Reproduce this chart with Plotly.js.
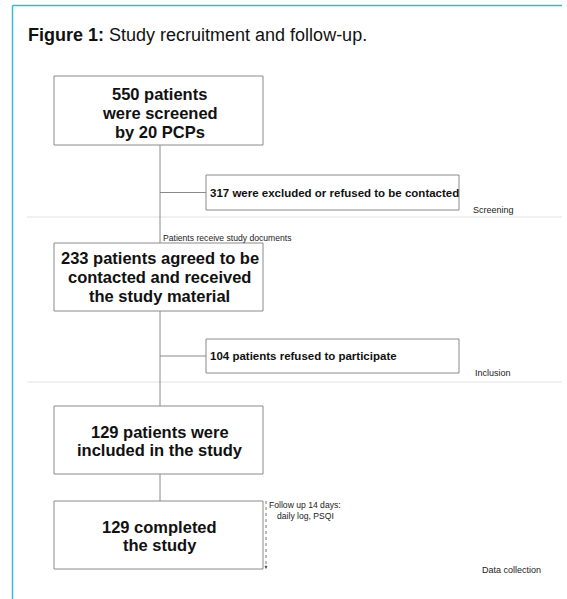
<!DOCTYPE html>
<html>
<head>
<meta charset="utf-8">
<script src="https://cdn.plot.ly/plotly-3.0.1.min.js"></script>
<style>html,body{margin:0;padding:0;background:#fff;}#chart{width:567px;height:599px;}</style>
</head>
<body>
<div id="chart"></div>
<script>
// ---- content (flowchart values and labels) ----
const titleBold = "Figure 1:";
const titleRest = " Study recruitment and follow-up.";
const mainCounts = [550, 233, 129, 129];
const mainLines = [
  ["550 patients", "were screened", "by 20 PCPs"],
  ["233 patients agreed to be", "contacted and received", "the study material"],
  ["129 patients were", "included in the study"],
  ["129 completed", "the study"]
];
const sideCounts = [317, 104];
const sideLabels = ["317 were excluded or refused to be contacted", "104 patients refused to participate"];
const stageLabels = ["Screening", "Inclusion", "Data collection"];
const stepNote = "Patients receive study documents";
const followNote = ["Follow up 14 days:", "daily log, PSQI"];

// ---- layout geometry (pixels) ----
const FONT = "Liberation Sans, Arial, Helvetica, sans-serif";
const mainBoxes = [[54, 76, 263, 145], [54, 243, 263, 311], [54, 406, 263, 474], [54, 501, 263, 569]];
const mainTextCenter = [113, 277, 441, 536];
const sideBoxes = [[206, 175, 459, 210], [206, 339, 459, 373]];
const stageY = [210, 373, 570];
const separatorsY = [217, 382];
const spineX = 160;
const boxLine = {color: "#8a8a8a", width: 1};

const shapes = [];
const annotations = [];

// frame (cyan)
shapes.push({type: "line", xref: "x", yref: "y", x0: 12.5, x1: 562, y0: 5.5, y1: 5.5, line: {color: "#34bcd6", width: 1.5}});
shapes.push({type: "line", xref: "x", yref: "y", x0: 12.5, x1: 12.5, y0: 5.5, y1: 599, line: {color: "#34bcd6", width: 1.5}});

// separators
separatorsY.forEach(y => shapes.push({type: "line", x0: 27, x1: 562, y0: y, y1: y, line: {color: "#e2e2e2", width: 1}}));

// main boxes + text
mainBoxes.forEach((b, i) => {
  shapes.push({type: "rect", x0: b[0], y0: b[1], x1: b[2], y1: b[3], line: boxLine, fillcolor: "#ffffff"});
  const lines = mainLines[i];
  const lh = 18.7;
  const start = mainTextCenter[i] - lh * (lines.length - 1) / 2;
  lines.forEach((t, j) => annotations.push({
    x: (b[0] + b[2]) / 2 + 1, y: start + j * lh, text: "<b>" + t + "</b>", showarrow: false,
    xanchor: "center", yanchor: "middle", font: {family: FONT, size: 16.5, color: "#111"}
  }));
});

// spine connectors
for (let i = 0; i < mainBoxes.length - 1; i++) {
  shapes.push({type: "line", x0: spineX, x1: spineX, y0: mainBoxes[i][3], y1: mainBoxes[i + 1][1], line: boxLine});
}

// side boxes
sideBoxes.forEach((b, i) => {
  shapes.push({type: "rect", x0: b[0], y0: b[1], x1: b[2], y1: b[3], line: boxLine, fillcolor: "#ffffff"});
  const cy = (b[1] + b[3]) / 2;
  shapes.push({type: "line", x0: spineX, x1: b[0], y0: cy, y1: cy, line: boxLine});
  annotations.push({x: b[0] + 1.5, y: cy, text: "<b>" + sideLabels[i] + "</b>", showarrow: false,
    xanchor: "left", yanchor: "middle", font: {family: FONT, size: 11.5, color: "#111"}});
});

// stage labels
const stageX = [471, 473, 480];
stageLabels.forEach((t, i) => annotations.push({x: stageX[i], y: stageY[i], text: t, showarrow: false,
  xanchor: "left", yanchor: "middle", font: {family: FONT, size: 9, color: "#222"}}));

// step note
annotations.push({x: 161, y: 238, text: stepNote, showarrow: false, xanchor: "left", yanchor: "middle",
  font: {family: FONT, size: 8.6, color: "#222"}});

// follow-up dotted arrow + note
shapes.push({type: "line", x0: 266, x1: 266, y0: 501, y1: 567, line: {color: "#777", width: 1, dash: "dot"}});
annotations.push({x: 266, y: 569, ax: 266, ay: 564, axref: "x", ayref: "y", text: "", showarrow: true,
  arrowhead: 2, arrowsize: 0.6, arrowwidth: 1, arrowcolor: "#555"});
followNote.forEach((t, j) => annotations.push({x: 305, y: 504.5 + j * 11, text: t, showarrow: false,
  xanchor: "center", yanchor: "middle", font: {family: FONT, size: 8.6, color: "#222"}}));

// title
annotations.push({x: 26, y: 35, text: "<b>" + titleBold + "</b>" + titleRest, showarrow: false,
  xanchor: "left", yanchor: "middle", font: {family: FONT, size: 18, color: "#111"}});

const layout = {
  width: 567, height: 599,
  margin: {l: 0, r: 0, t: 0, b: 0},
  paper_bgcolor: "#ffffff", plot_bgcolor: "#ffffff",
  xaxis: {range: [0, 567], visible: false, fixedrange: true},
  yaxis: {range: [599, 0], visible: false, fixedrange: true},
  shapes: shapes, annotations: annotations, showlegend: false
};

Plotly.newPlot("chart", [{x: [], y: [], type: "scatter", mode: "markers", hoverinfo: "skip"}], layout,
  {staticPlot: true, displayModeBar: false});
</script>
</body>
</html>
